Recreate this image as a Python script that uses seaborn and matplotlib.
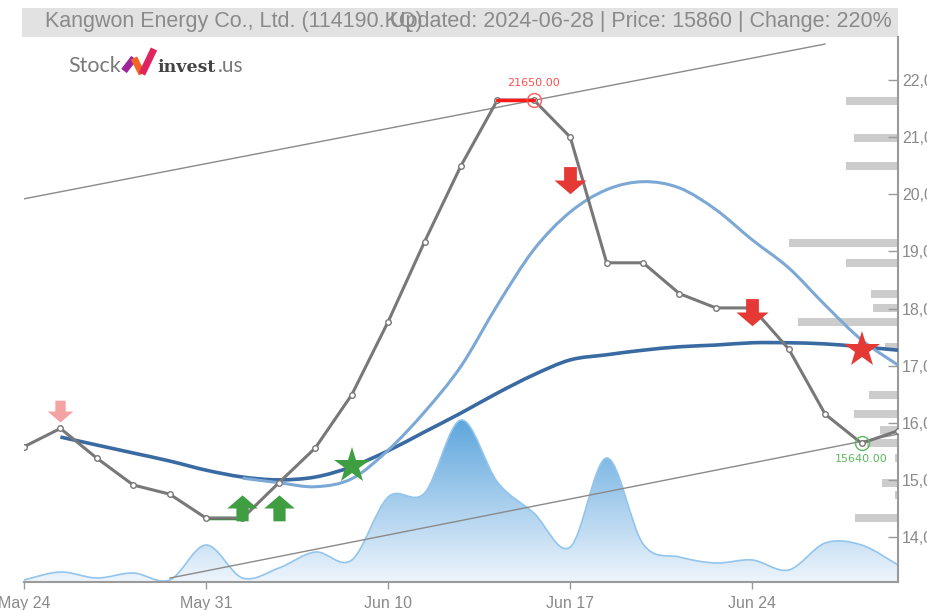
import numpy as np
import pandas as pd
import matplotlib
matplotlib.use("Agg")
import matplotlib.pyplot as plt
from matplotlib.path import Path
from matplotlib.patches import PathPatch, Rectangle
import seaborn as sns

# ---- data --------------------------------------------------------------
dates = pd.to_datetime([
    "2024-05-24", "2024-05-27", "2024-05-28", "2024-05-29", "2024-05-30",
    "2024-05-31", "2024-06-03", "2024-06-04", "2024-06-05", "2024-06-07",
    "2024-06-10", "2024-06-11", "2024-06-12", "2024-06-13", "2024-06-14",
    "2024-06-17", "2024-06-18", "2024-06-19", "2024-06-20", "2024-06-21",
    "2024-06-24", "2024-06-25", "2024-06-26", "2024-06-27", "2024-06-28"])
close = [15580, 15900, 15380, 14910, 14750, 14330, 14330, 14950, 15560, 16490,
         17770, 19170, 20500, 21650, 21650, 21000, 18800, 18800, 18260, 18010,
         18010, 17290, 16150, 15640, 15860]
ma_long = [np.nan, 15750, 15610, 15470, 15330, 15170, 15050, 15000, 15050, 15230,
           15510, 15840, 16170, 16520, 16840, 17100, 17190, 17270, 17330, 17360,
           17400, 17400, 17380, 17330, 17270]
ma_short = [np.nan, np.nan, np.nan, np.nan, np.nan, np.nan, 15030, 14950, 14880, 15020,
            15520, 16190, 16990, 18060, 19030, 19690, 20080, 20220, 20110, 19730,
            19200, 18710, 18060, 17450, 17010]
volume = [20000, 100000, 40000, 90000, 20000, 370000, 40000, 140000, 300000, 220000,
          850000, 890000, 1620000, 1000000, 690000, 350000, 1240000, 380000, 250000, 190000,
          220000, 120000, 390000, 370000, 170000]

# volume at price (right side profile)
profile_price = [21636, 20988, 20499, 19149, 18799, 18256, 18011, 17765, 17327,
                 16487, 16154, 15874, 15646, 15384, 14947, 14736, 14333]
profile_volume = [52, 44, 52, 109, 52, 27, 25, 100, 13, 29, 44, 18, 31, 3, 16, 3, 43]

# trend channel lines (start index, start price, end index, end price)
upper_trend = [(0, 19920), (22, 22630)]
lower_trend = [(4, 13280), (24, 15800)]

# trade signals
buy_arrows = [(6, 14508), (7, 14508)]
buy_star = [(9, 15243)]
sell_arrows = [(15, 20252), (20, 17940)]
sell_star = [(23, 17275)]
weak_sell = [(1, 16207)]
high_idx, low_idx = 14, 23
tick_idx = [0, 5, 10, 15, 20]

# ---- helpers --------------------------------------------------------------
W, H = 928, 610


def fx(px):
    return px / W


def fy(py):
    return 1 - py / H


def smooth_path(xs, ys, base=None):
    xs = np.asarray(xs, float)
    ys = np.asarray(ys, float)
    n = len(xs)
    verts = [(xs[0], ys[0])]
    codes = [Path.MOVETO]
    for i in range(n - 1):
        p0 = np.array([xs[max(i - 1, 0)], ys[max(i - 1, 0)]])
        p1 = np.array([xs[i], ys[i]])
        p2 = np.array([xs[i + 1], ys[i + 1]])
        p3 = np.array([xs[min(i + 2, n - 1)], ys[min(i + 2, n - 1)]])
        c1 = p1 + (p2 - p0) / 6
        c2 = p2 - (p3 - p1) / 6
        verts += [tuple(c1), tuple(c2), tuple(p2)]
        codes += [Path.CURVE4] * 3
    if base is not None:
        verts += [(xs[-1], base), (xs[0], base), (xs[0], ys[0])]
        codes += [Path.LINETO, Path.LINETO, Path.CLOSEPOLY]
    return Path(verts, codes)


down_arrow = [(-0.2, 0.42), (0.2, 0.42), (0.2, 0.0), (0.5, 0.0), (0.0, -0.43),
              (-0.5, 0.0), (-0.2, 0.0), (-0.2, 0.42)]
up_arrow = [(x, -y) for x, y in down_arrow]

sns.set_theme(style="white")
plt.rcParams["font.family"] = ["Liberation Sans", "DejaVu Sans"]

fig = plt.figure(figsize=(W / 100, H / 100), dpi=100)
rect = [fx(24), fy(582), fx(898) - fx(24), fy(37) - fy(582)]
ax_vol = fig.add_axes(rect, label="vol")
ax_prof = fig.add_axes(rect, label="prof")
ax = fig.add_axes(rect, label="price")
ax_vol.set_zorder(0)
ax_prof.set_zorder(1)
ax.set_zorder(2)
ax.patch.set_visible(False)
ax_prof.patch.set_visible(False)

x = np.arange(len(close))
ymin, ymax = 13212, 22753

# ---- volume area with gradient -------------------------------------------
ax_vol.set_xlim(0, len(close) - 1)
ax_vol.set_ylim(0, 5450000)
vpath = smooth_path(x, volume, base=0)
grad = np.linspace(0, 1, 256).reshape(-1, 1)
cmap = matplotlib.colors.LinearSegmentedColormap.from_list("g", ["#eef5fc", "#5ea6dd"])
img = ax_vol.imshow(grad, extent=[0, 24, 0, max(volume)], origin="lower",
                    aspect="auto", cmap=cmap, zorder=1)
vpatch = PathPatch(vpath, facecolor="none", edgecolor="none")
ax_vol.add_patch(vpatch)
img.set_clip_path(vpatch)
ax_vol.add_patch(PathPatch(smooth_path(x, volume), facecolor="none",
                           edgecolor="#93c5ec", lw=1.2, zorder=2))
ax_vol.axis("off")

# ---- volume profile bars ---------------------------------------------------
ax_prof.set_xlim(874, 0)
ax_prof.set_ylim(ymin, ymax)
ax_prof.barh(profile_price, profile_volume, height=140, left=0,
             color="#cccccc", edgecolor="none")
ax_prof.axis("off")

# ---- price axes -----------------------------------------------------------
ax.set_xlim(0, len(close) - 1)
ax.set_ylim(ymin, ymax)

for (x0, y0), (x1, y1) in [upper_trend, lower_trend]:
    ax.plot([x0, x1], [y0, y1], color="#8a8a8a", lw=1, zorder=2)

ax.add_patch(PathPatch(smooth_path(x[1:], ma_long[1:]), facecolor="none",
                       edgecolor="#3a6aa2", lw=2.6, zorder=3))
ax.add_patch(PathPatch(smooth_path(x[6:], ma_short[6:]), facecolor="none",
                       edgecolor="#7ba8d4", lw=2.2, zorder=3))

df = pd.DataFrame({"idx": x, "close": close, "date": dates})
sns.lineplot(data=df, x="idx", y="close", ax=ax, color="#787878", lw=2.2,
             marker="o", markersize=4, markerfacecolor="white",
             markeredgecolor="#787878", markeredgewidth=1, zorder=4)

# high / low marks
ax.plot([high_idx - 1, high_idx], [close[high_idx]] * 2, color="#ff1a1a", lw=2.5, zorder=5)
ax.plot([low_idx - 18, low_idx - 17], [close[low_idx - 18]] * 2, color="#118811", lw=2.5, zorder=3.5)
ax.plot(high_idx, close[high_idx], "o", ms=10, mfc="none", mec="#ff5a5a", mew=1, zorder=6)
ax.plot(low_idx, close[low_idx], "o", ms=10, mfc="none", mec="#5cb85c", mew=1, zorder=6)
ax.annotate(f"{close[high_idx]:.2f}", (high_idx, close[high_idx]), xytext=(0, 9),
            textcoords="offset points", ha="center", va="bottom", color="#ff4d4d",
            fontsize=8, family="DejaVu Sans", zorder=6)
ax.annotate(f"{close[low_idx]:.2f}", (low_idx, close[low_idx]), xytext=(0, -8),
            textcoords="offset points", ha="center", va="top", color="#5cb85c",
            fontsize=8, family="DejaVu Sans", zorder=6)

# signals
for px, py in weak_sell:
    ax.plot(px, py, marker=down_arrow, ms=18.5, color="#f4a3a3", mew=0, ls="", zorder=7)
for px, py in buy_arrows:
    ax.plot(px, py, marker=up_arrow, ms=22, color="#3f9e42", mew=0, ls="", zorder=7)
for px, py in buy_star:
    ax.plot(px, py, marker="*", ms=27, color="#3f9e42", mew=0, ls="", zorder=7)
for px, py in sell_arrows:
    ax.plot(px, py, marker=down_arrow, ms=23, color="#e53935", mew=0, ls="", zorder=7)
for px, py in sell_star:
    ax.plot(px, py, marker="*", ms=27, color="#e53935", mew=0, ls="", zorder=7)

# axes styling
for side in ["top", "left"]:
    ax.spines[side].set_visible(False)
for side in ["right", "bottom"]:
    ax.spines[side].set_color("#9a9a9a")
    ax.spines[side].set_linewidth(1.5)
ax.yaxis.tick_right()
ax.set_yticks(range(14000, 22001, 1000))
ax.set_yticklabels([f"{v:,}" for v in range(14000, 22001, 1000)])
ax.tick_params(axis="y", direction="in", length=7, width=1, color="#9a9a9a",
               labelcolor="#8a8a8a", labelsize=11.5, pad=3, right=True)
ax.set_xticks(tick_idx)
ax.set_xticklabels([dates[i].strftime("%b %d") for i in tick_idx])
ax.tick_params(axis="x", direction="out", length=5, width=1, color="#9a9a9a",
               labelcolor="#8a8a8a", labelsize=11.5, pad=5, bottom=True)
ax.set_xlabel("")
ax.set_ylabel("")
ax.grid(False)

# ---- title band ---------------------------------------------------------
fig.patches.append(Rectangle((fx(22), fy(37)), fx(898) - fx(22), fy(8) - fy(37),
                             transform=fig.transFigure, facecolor="#e2e2e2",
                             edgecolor="none", zorder=0))
fig.text(fx(45), fy(22), "Kangwon Energy Co., Ltd. (114190.KQ)", ha="left",
         va="center", color="#8a8a8a", fontsize=15.5)
fig.text(fx(892), fy(22), "Updated: 2024-06-28 | Price: 15860 | Change: 220%",
         ha="right", va="center", color="#8a8a8a", fontsize=15.5)

# ---- logo --------------------------------------------------------------
fig.text(fx(68), fy(72), "Stock", ha="left", va="baseline", color="#7a7a7a",
         fontsize=15.5, family="Lato")
fig.add_artist(plt.Line2D([fx(124), fx(134)], [fy(71), fy(58)], color="#a0259b",
                          lw=5, solid_capstyle="butt"))
fig.add_artist(plt.Line2D([fx(134), fx(142)], [fy(58), fy(74)], color="#f26522",
                          lw=5, solid_capstyle="butt"))
fig.add_artist(plt.Line2D([fx(142), fx(154)], [fy(74), fy(49)], color="#e2245e",
                          lw=5, solid_capstyle="butt"))
fig.text(fx(157), fy(72), "invest", ha="left", va="baseline", color="#444444",
         fontsize=12.5, family="DejaVu Serif", weight="bold")
fig.text(fx(218), fy(72), ".us", ha="left", va="baseline", color="#7a7a7a",
         fontsize=15, family="Lato")

fig.savefig("out.png", dpi=100)
